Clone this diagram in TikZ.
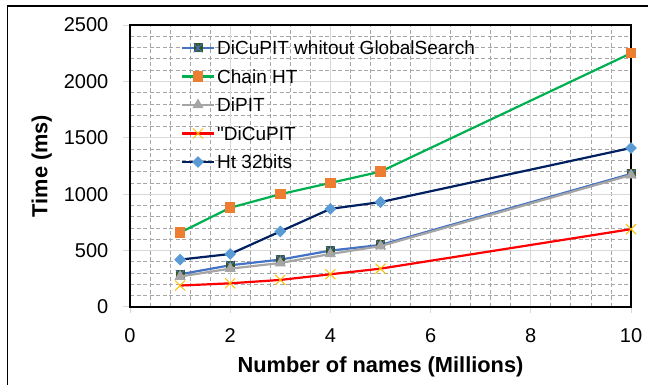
\documentclass[tikz,border=0pt]{standalone}
\usepackage{fontspec}
\setmainfont{Liberation Sans}
\newfontfamily\chartfont{Liberation Sans}
\usetikzlibrary{shapes.geometric,shapes.misc}

\definecolor{chaingreen}{HTML}{00B050}
\definecolor{chainorange}{HTML}{ED7D31}
\definecolor{cublue}{HTML}{4472C4}
\definecolor{cugreen}{HTML}{375623}
\definecolor{pitgray}{HTML}{A5A5A5}
\definecolor{htnavy}{HTML}{002060}
\definecolor{htblue}{HTML}{5B9BD5}
\definecolor{crossyellow}{HTML}{FFC000}
\definecolor{majorgrid}{HTML}{D9D9D9}
\definecolor{minorgrid}{HTML}{A6A6A6}

\tikzset{
  MinorGrid/.style={minorgrid,line width=0.8pt,dash pattern=on 4pt off 2.5pt},
  MajorGrid/.style={majorgrid,line width=1pt},
  TickLabel/.style={font=\fontsize{20}{22}\selectfont,inner sep=0pt},
  AxisTitle/.style={font=\fontsize{21.8}{24}\selectfont\bfseries,inner sep=0pt},
  LegendText/.style={font=\chartfont\fontsize{19}{22}\selectfont,anchor=west,inner sep=0pt},
  SeriesLine/.style={line width=2.2pt,line join=round},
  CuMark/.style={rectangle,fill=cugreen,minimum size=9pt,inner sep=0pt,
    path picture={\draw[cublue,line width=0.9pt]
      (path picture bounding box.north west) -- (path picture bounding box.south east)
      (path picture bounding box.south west) -- (path picture bounding box.north east)
      (path picture bounding box.north) -- (path picture bounding box.south);}},
  ChainMark/.style={rectangle,fill=chainorange,minimum size=10.5pt,inner sep=0pt},
  PitMark/.style={regular polygon,regular polygon sides=3,fill=pitgray,minimum size=13pt,inner sep=0pt},
  CrossMark/.style={cross out,draw=crossyellow,line width=1pt,minimum size=9pt,inner sep=0pt},
  HtMark/.style={diamond,fill=htblue,minimum size=12pt,inner sep=0pt}
}

\begin{document}
\begin{tikzpicture}[x=1pt,y=1pt]
	\useasboundingbox (0,0) rectangle (648,385);
	% outer frame
	\draw[black,line width=1.5pt] (7.3,0) -- (7.3,379) -- (648,379);
	\begin{scope}[shift={(130pt,78pt)},x=50.1pt,y=0.1128pt]
		% grid
		\foreach \k in {1,...,24}{
			\pgfmathtruncatemacro{\r}{mod(\k,5)}
			\ifnum\r>0 \draw[MinorGrid] (0.4*\k,0) -- (0.4*\k,2500); \fi
		}
		\foreach \k in {1,...,24}{
			\pgfmathtruncatemacro{\r}{mod(\k,5)}
			\ifnum\r>0 \draw[MinorGrid] (0,100*\k) -- (10,100*\k); \fi
		}
		\foreach \gx in {2,4,6,8} \draw[MajorGrid] (\gx,0) -- (\gx,2500);
		\foreach \gy in {500,1000,1500,2000} \draw[MajorGrid] (0,\gy) -- (10,\gy);
		% ticks and labels
		\foreach \gx in {0,2,...,10}{
			\draw[MajorGrid] (\gx,0) -- ++(0,-55);
			\node[TickLabel] (xt\gx) at (\gx,-255) {\gx};
		}
		\foreach \gy in {0,500,...,2500}{
			\draw[MajorGrid] (0,\gy) -- ++(-0.14,0);
			\node[TickLabel,anchor=east] (yt\gy) at (-0.43,\gy) {\gy};
		}
		\draw[black,line width=1.2pt] (0,0) rectangle (10,2500);
		% series
		\foreach \x/\y [count=\i] in {1/290,2/370,3/420,4/500,5/550,10/1180}
			\coordinate (cu\i) at (\x,\y);
		\foreach \x/\y [count=\i] in {1/660,2/880,3/1000,4/1100,5/1200,10/2250}
			\coordinate (chain\i) at (\x,\y);
		\foreach \x/\y [count=\i] in {1/270,2/340,3/390,4/470,5/540,10/1170}
			\coordinate (pit\i) at (\x,\y);
		\foreach \x/\y [count=\i] in {1/190,2/210,3/240,4/290,5/340,10/690}
			\coordinate (dcu\i) at (\x,\y);
		\foreach \x/\y [count=\i] in {1/420,2/470,3/670,4/870,5/930,10/1410}
			\coordinate (ht\i) at (\x,\y);
		\draw[SeriesLine,cublue] (cu1) -- (cu2) -- (cu3) -- (cu4) -- (cu5) -- (cu6);
		\foreach \i in {1,...,6} \node[CuMark] at (cu\i) {};
		\draw[SeriesLine,chaingreen] (chain1) -- (chain2) -- (chain3) -- (chain4) -- (chain5) -- (chain6);
		\foreach \i in {1,...,6} \node[ChainMark] at (chain\i) {};
		\draw[SeriesLine,pitgray] (pit1) -- (pit2) -- (pit3) -- (pit4) -- (pit5) -- (pit6);
		\foreach \i in {1,...,6} \node[PitMark] at (pit\i) {};
		\draw[SeriesLine,red] (dcu1) -- (dcu2) -- (dcu3) -- (dcu4) -- (dcu5) -- (dcu6);
		\foreach \i in {1,...,6} \node[CrossMark] at (dcu\i) {};
		\draw[SeriesLine,htnavy] (ht1) -- (ht2) -- (ht3) -- (ht4) -- (ht5) -- (ht6);
		\foreach \i in {1,...,6} \node[HtMark] at (ht\i) {};
		% axis titles
		\node[AxisTitle] (xtitle) at (5,-530) {Number of names (Millions)};
		\node[AxisTitle,rotate=90] (ytitle) at (-1.76,1250) {Time (ms)};
	\end{scope}
	% legend
	\draw[SeriesLine,cublue] (182,337) -- (214,337);
	\node[CuMark] (lcu) at (198,337) {};
	\node[LegendText] (tcu) at (217,337) {DiCuPIT whitout GlobalSearch};
	\draw[SeriesLine,chaingreen] (182,308.5) -- (214,308.5);
	\node[ChainMark] (lchain) at (198,308.5) {};
	\node[LegendText] (tchain) at (217,308.5) {Chain HT};
	\draw[SeriesLine,pitgray] (182,280) -- (214,280);
	\node[PitMark] (lpit) at (198,280) {};
	\node[LegendText] (tpit) at (217,280) {DiPIT};
	\draw[SeriesLine,red] (182,251.5) -- (214,251.5);
	\node[CrossMark] (ldcu) at (198,251.5) {};
	\node[LegendText] (tdcu) at (217,251.5) {"DiCuPIT};
	\draw[SeriesLine,htnavy] (182,223) -- (214,223);
	\node[HtMark] (lht) at (198,223) {};
	\node[LegendText] (tht) at (217,223) {Ht 32bits};
\end{tikzpicture}
\end{document}
